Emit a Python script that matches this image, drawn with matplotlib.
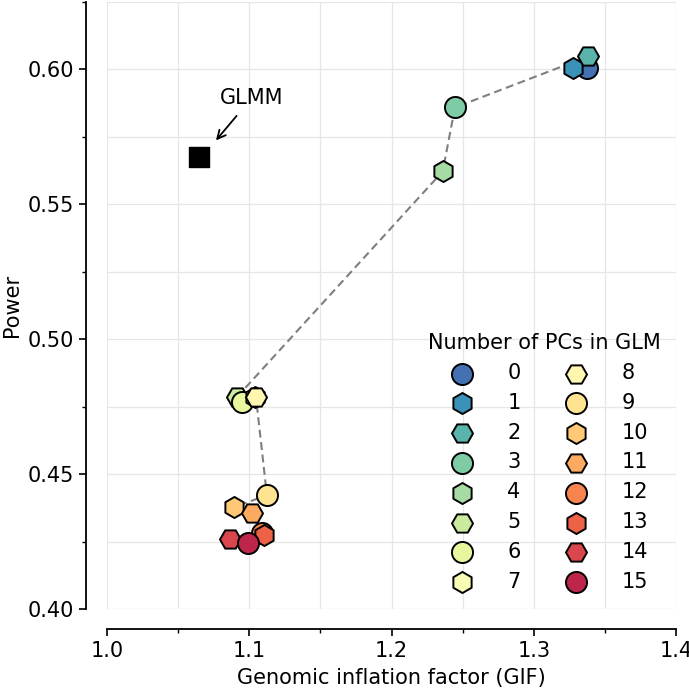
import numpy as np
import matplotlib
matplotlib.use('Agg')
import matplotlib.pyplot as plt
from matplotlib.ticker import MultipleLocator

# number of PCs in the GLM and the resulting GIF / power
n_pcs = list(range(16))
gif = [1.3374, 1.3276, 1.3381, 1.2446, 1.2360, 1.0914, 1.0949, 1.1040,
       1.1047, 1.1124, 1.0893, 1.1022, 1.1088, 1.1106, 1.0865, 1.0993]
power = [0.6007, 0.6007, 0.6048, 0.5859, 0.5622, 0.4786, 0.4768, 0.4784,
         0.4786, 0.4422, 0.4377, 0.4354, 0.4280, 0.4274, 0.4258, 0.4243]

glmm_gif = 1.0647
glmm_power = 0.5674

x_ticks = [1.0, 1.1, 1.2, 1.3, 1.4]
y_ticks = [0.40, 0.45, 0.50, 0.55, 0.60]

plt.rcParams['font.family'] = 'DejaVu Sans'
plt.rcParams['font.size'] = 15

fig = plt.figure(figsize=(6.89, 6.91), dpi=100)
ax = fig.add_axes([107 / 689, 82 / 691, 569 / 689, 607 / 691])

colors = plt.get_cmap('Spectral_r')(np.linspace(0, 1, 18)[1:-1])
shapes = ['o', 'h', 'H']

ax.plot(gif, power, color='#7f7f7f', lw=1.5, dashes=(3.8, 2.2), zorder=2)

for i, n in enumerate(n_pcs):
    ax.scatter(gif[i], power[i], s=230, marker=shapes[i % 3], color=colors[i],
               edgecolor='black', linewidth=1.4, zorder=3 + i * 0.01, label=str(n))

ax.scatter(glmm_gif, glmm_power, s=190, marker='s', color='black', zorder=3)
ax.annotate('GLMM', xy=(1.0766, 0.5737), xytext=(1.0795, 0.5895),
            ha='left', va='center', fontsize=15,
            arrowprops=dict(arrowstyle='->', color='black', lw=1.3,
                            shrinkA=5, shrinkB=0))

ax.set_xlim(1.0, 1.4)
ax.set_ylim(0.40, 0.625)
ax.set_xticks(x_ticks)
ax.set_yticks(y_ticks)
ax.xaxis.set_minor_locator(MultipleLocator(0.05))
ax.yaxis.set_minor_locator(MultipleLocator(0.025))
ax.set_xticklabels(['%.1f' % t for t in x_ticks])
ax.set_yticklabels(['%.2f' % t for t in y_ticks])

ax.grid(True, which='both', color='#e6e6e6', lw=0.9)
ax.set_axisbelow(True)
ax.tick_params(which='major', length=5, width=1.2)
ax.tick_params(which='minor', length=3, width=1.0)

for side in ['top', 'right']:
    ax.spines[side].set_visible(False)
ax.spines['left'].set_position(('outward', 15))
ax.spines['bottom'].set_position(('outward', 14.5))
ax.spines['left'].set_bounds(0.40, 0.625)
ax.spines['bottom'].set_bounds(1.0, 1.4)
ax.spines['left'].set_linewidth(1.3)
ax.spines['bottom'].set_linewidth(1.3)

ax.set_xlabel('Genomic inflation factor (GIF)', labelpad=5)
ax.set_ylabel('Power')

ax.legend(title='Number of PCs in GLM', ncol=2, frameon=False,
          loc='lower right', bbox_to_anchor=(0.988, 0.015), borderaxespad=0,
          handletextpad=1.2, columnspacing=1.65, labelspacing=0.47,
          title_fontsize=15, fontsize=15)

plt.savefig('out.png', dpi=100)
